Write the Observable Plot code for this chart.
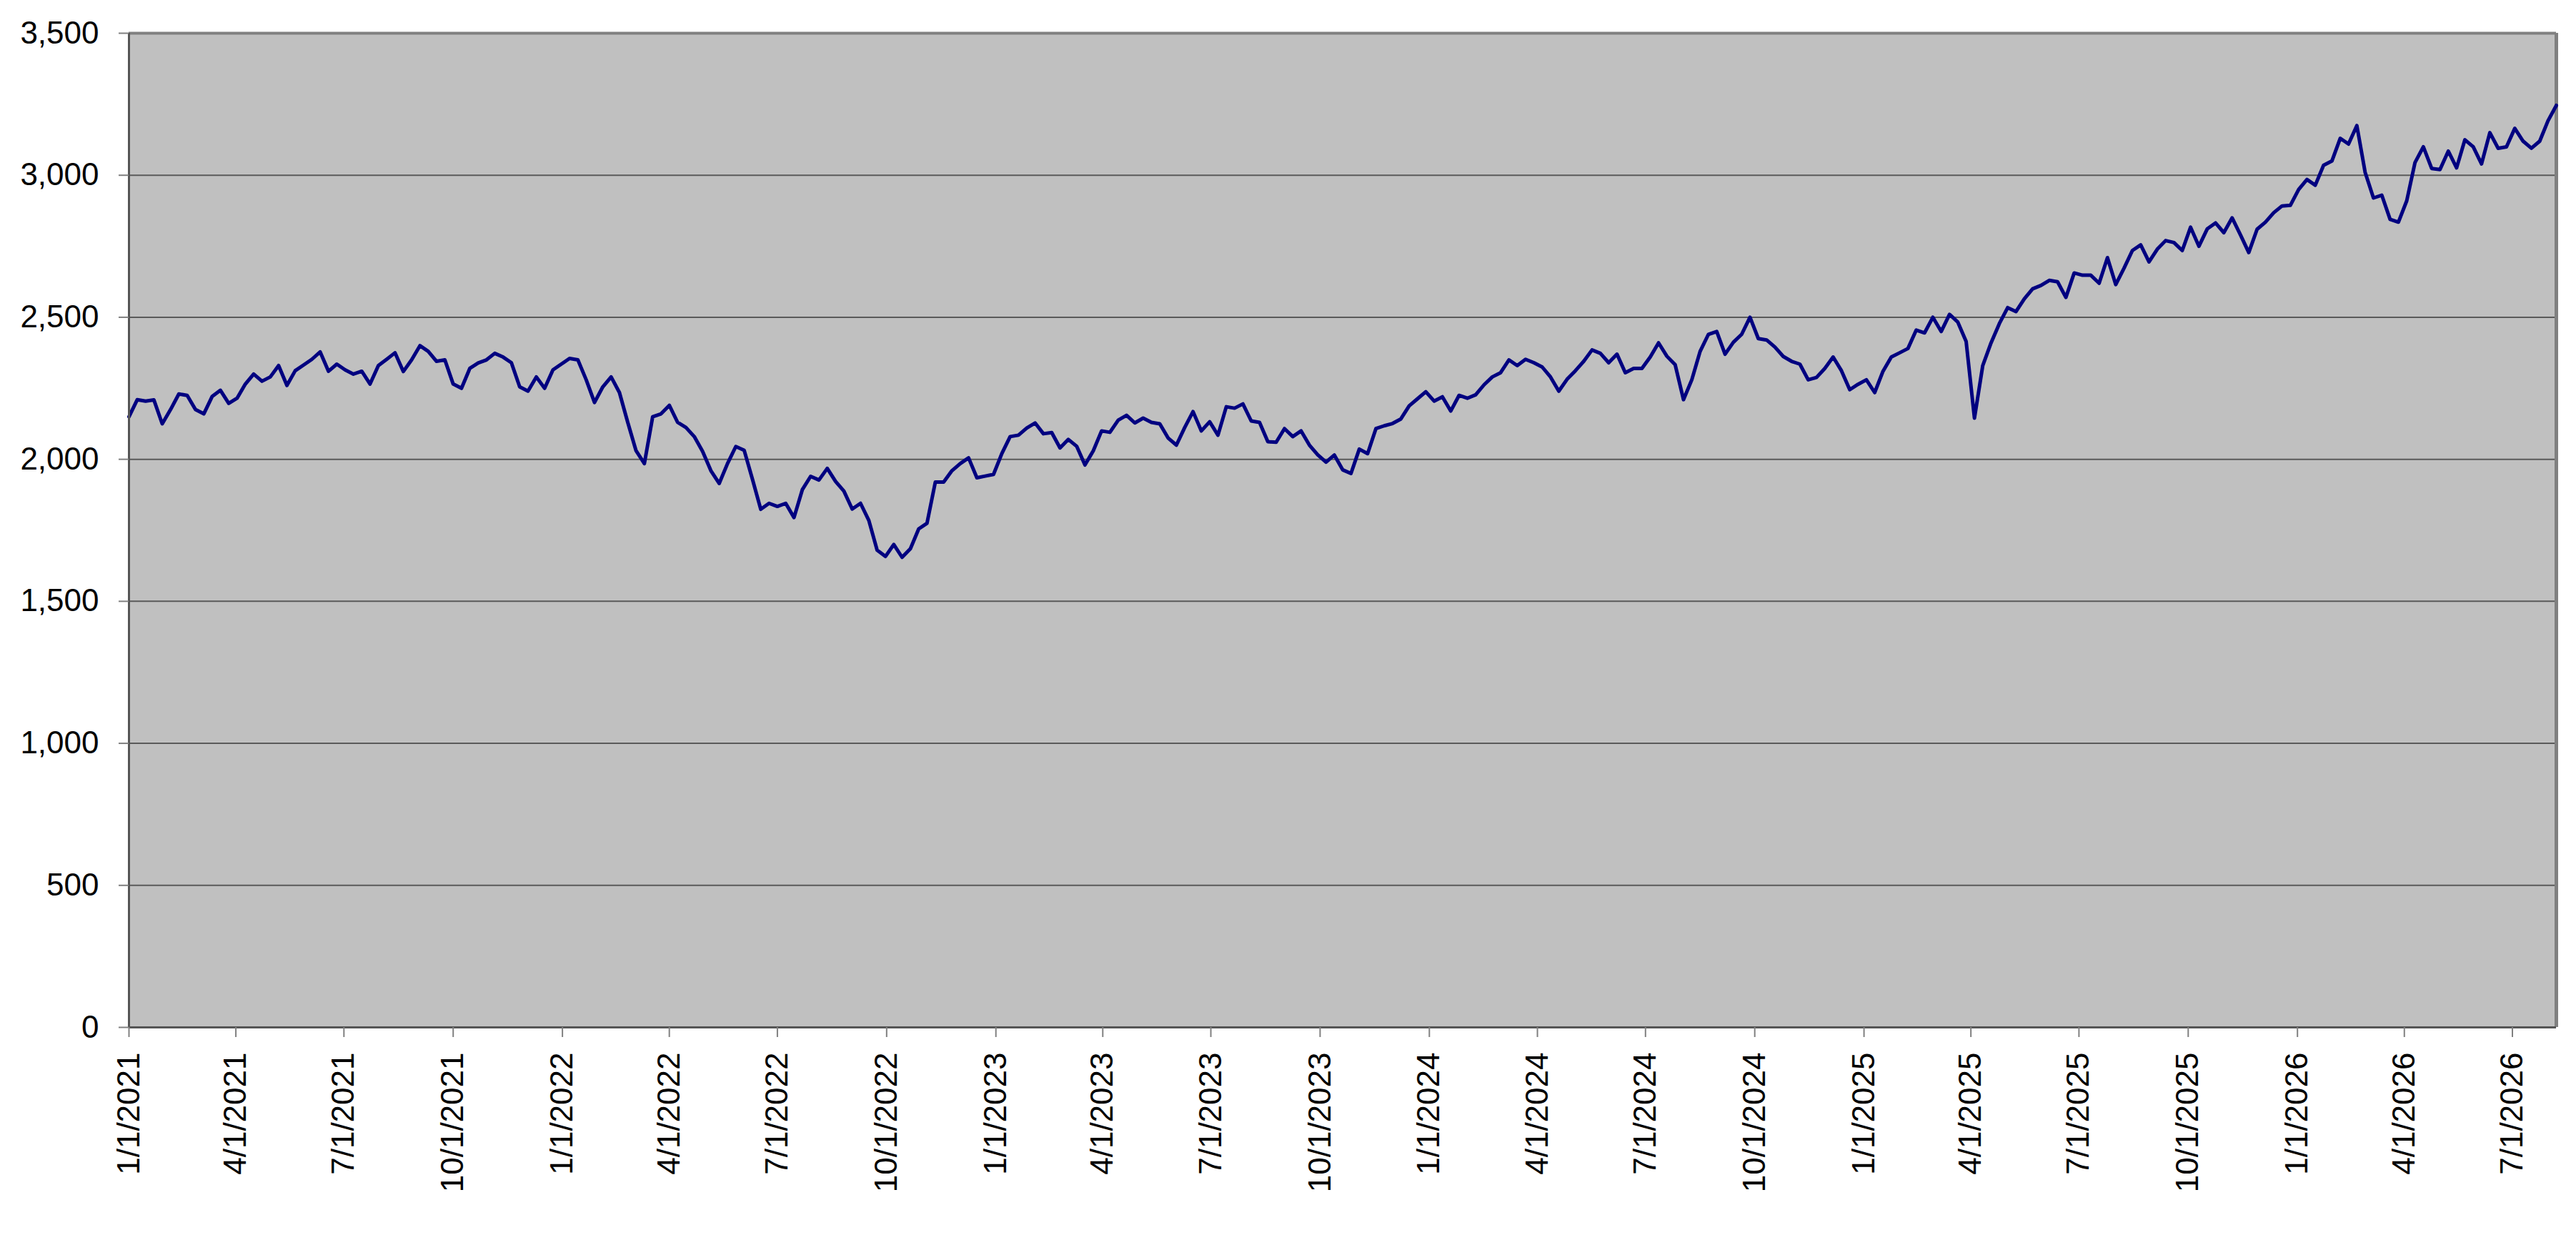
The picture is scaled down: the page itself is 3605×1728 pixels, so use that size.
<!DOCTYPE html>
<html>
<head>
<meta charset="utf-8">
<script src="https://cdn.jsdelivr.net/npm/d3@7"></script>
<script src="https://cdn.jsdelivr.net/npm/@observablehq/plot@0.6"></script>
<style>
html, body { margin: 0; padding: 0; background: #ffffff; overflow: hidden; }
#chart svg { display: block; }
</style>
</head>
<body>
<div id="chart"></div>
<script>
// ---- data ----
const startDate = "2021-01-01";   // first weekly observation (Friday)
const endDate = "2026-08-07";     // last weekly observation (Friday)
const stepDays = 7;               // weekly series

const yTicks = [0, 500, 1000, 1500, 2000, 2500, 3000, 3500];

const xTickLabels = [
  "1/1/2021", "4/1/2021", "7/1/2021", "10/1/2021",
  "1/1/2022", "4/1/2022", "7/1/2022", "10/1/2022",
  "1/1/2023", "4/1/2023", "7/1/2023", "10/1/2023",
  "1/1/2024", "4/1/2024", "7/1/2024", "10/1/2024",
  "1/1/2025", "4/1/2025", "7/1/2025", "10/1/2025",
  "1/1/2026", "4/1/2026", "7/1/2026"
];

const values = [
  // 2021
  2150, 2210, 2205, 2209, 2125, 2175, 2230, 2225, 2175, 2160,
  2221, 2243, 2197, 2215, 2265, 2300, 2275, 2290, 2330, 2260,
  2312, 2332, 2352, 2378, 2310, 2335, 2315, 2300, 2310, 2265,
  2330, 2352, 2375, 2309, 2350, 2400, 2380, 2345, 2350, 2265,
  2250, 2320, 2339, 2350, 2373, 2360, 2340, 2255, 2240, 2290,
  // 2022
  2250, 2315, 2335, 2355, 2350, 2280, 2200, 2255, 2290, 2235,
  2130, 2030, 1985, 2150, 2160, 2190, 2130, 2112, 2080, 2028,
  1960, 1915, 1985, 2045, 2032, 1930, 1824, 1845, 1834, 1845,
  1795, 1893, 1940, 1927, 1968, 1922, 1888, 1825, 1845, 1785,
  1680, 1658, 1700, 1655, 1685, 1755, 1775, 1920, 1920,
  // 2023
  1960, 1985, 2005, 1935, 1941, 1947, 2020, 2080, 2085, 2110,
  2128, 2090, 2094, 2040, 2070, 2046, 1980, 2030, 2100, 2095,
  2138, 2155, 2128, 2145, 2130, 2125, 2075, 2050, 2112, 2168,
  2100, 2132, 2085, 2185, 2180, 2195, 2135, 2130, 2062, 2060,
  2108, 2080, 2100, 2050, 2016, 1990, 2015, 1963, 1950,
  // 2024
  2036, 2020, 2108, 2118, 2126, 2142, 2188, 2213, 2238, 2205,
  2220, 2170, 2225, 2215, 2227, 2262, 2290, 2305, 2350, 2330,
  2352, 2340, 2325, 2290, 2240, 2282, 2312, 2345, 2385, 2373,
  2340, 2370, 2305, 2320, 2320, 2360, 2410, 2363, 2333, 2210,
  2280, 2380, 2440, 2450, 2370, 2412, 2440, 2500, 2425,
  // 2025
  2420, 2395, 2362, 2345, 2335, 2280, 2288, 2320, 2360, 2312,
  2245, 2264, 2280, 2235, 2310, 2360, 2375, 2390, 2455, 2445,
  2500, 2450, 2510, 2483, 2415, 2145, 2330, 2410, 2478, 2534,
  2520, 2565, 2600, 2612, 2630, 2625, 2570, 2656, 2648, 2648,
  2620, 2710, 2615, 2673, 2735, 2755, 2695, 2740,
  // 2026
  2770, 2763, 2735, 2817, 2750, 2811, 2832, 2798, 2850, 2790,
  2728, 2810, 2835, 2868, 2892, 2894, 2950, 2985, 2965, 3035,
  3050, 3130, 3110, 3175, 3010, 2920, 2930, 2845, 2835, 2910,
  3045, 3100, 3024, 3020, 3085, 3026, 3125, 3100, 3040, 3150,
  3095, 3100, 3165, 3120, 3095, 3120, 3192, 3246
];

// ---- build ----
const start = d3.utcParse("%Y-%m-%d")(startDate);
const end = d3.utcParse("%Y-%m-%d")(endDate);
const data = values.map((v, i) => ({date: d3.utcDay.offset(start, i * stepDays), value: v}));
const parseTick = d3.utcParse("%m/%d/%Y");
const tickDates = xTickLabels.map(s => parseTick(s));
const labelOf = new Map(tickDates.map((d, i) => [+d, xTickLabels[i]]));

const chart = Plot.plot({
  width: 3605,
  height: 1728,
  marginLeft: 180,
  marginRight: 28,
  marginTop: 46,
  marginBottom: 291,
  style: {
    fontFamily: "'Liberation Sans', Arial, Helvetica, sans-serif",
    fontSize: "44px",
    background: "#ffffff",
    color: "#000000"
  },
  x: {type: "utc", domain: [start, end], label: null, axis: null},
  y: {domain: [0, 3500], label: null, axis: null},
  marks: [
    Plot.frame({fill: "#c0c0c0", stroke: null}),
    Plot.ruleY(yTicks.filter(v => v > 0 && v < 3500), {stroke: "#5a5a5a", strokeWidth: 2}),
    Plot.ruleY([3500], {stroke: "#808080", strokeWidth: 4}),
    Plot.ruleX([end], {stroke: "#808080", strokeWidth: 5}),
    Plot.line(data, {x: "date", y: "value", stroke: "#000080", strokeWidth: 5, strokeLinejoin: "round", strokeLinecap: "round"}),
    Plot.ruleX([start], {stroke: "#555555", strokeWidth: 3}),
    Plot.ruleY([0], {stroke: "#555555", strokeWidth: 3}),
    Plot.axisY(yTicks, {
      tickSize: 14, tickPadding: 28, tickFormat: d3.format(","),
      fontSize: 44, stroke: "#808080", strokeWidth: 2, fill: "#000000", label: null
    }),
    Plot.axisX(tickDates, {
      tickSize: 14, tickFormat: () => "", stroke: "#808080", strokeWidth: 2, label: null
    }),
    Plot.text(tickDates, {
      x: d => d,
      text: d => labelOf.get(+d),
      frameAnchor: "bottom",
      dy: 35,
      rotate: -90,
      textAnchor: "end",
      lineAnchor: "middle",
      fontSize: 44,
      fill: "#000000"
    })
  ]
});

document.getElementById("chart").appendChild(chart);
</script>
</body>
</html>
